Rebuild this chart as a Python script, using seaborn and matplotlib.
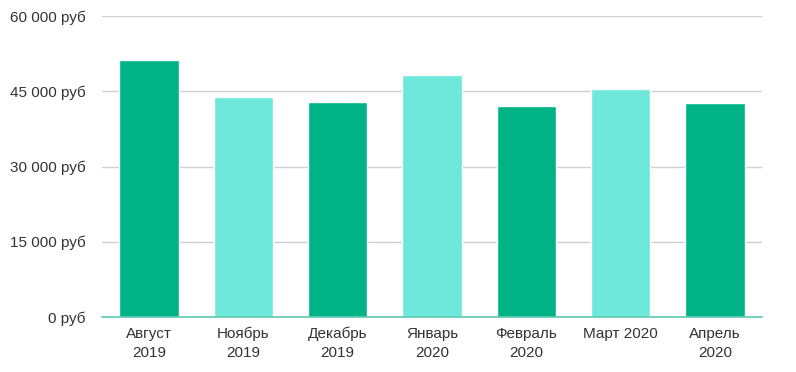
import matplotlib
matplotlib.use("Agg")
import matplotlib.pyplot as plt
import seaborn as sns
import pandas as pd

# monthly values
months = ["Август\n2019", "Ноябрь\n2019", "Декабрь\n2019", "Январь\n2020",
          "Февраль\n2020", "Март 2020", "Апрель\n2020"]
values = [51300, 43800, 42800, 48300, 42100, 45400, 42700]
y_ticks = [0, 15000, 30000, 45000, 60000]
y_labels = ["0 руб", "15 000 руб", "30 000 руб", "45 000 руб", "60 000 руб"]

dark = "#00B386"
light = "#6DE8DB"
bar_colors = [dark if i % 2 == 0 else light for i in range(len(months))]

df = pd.DataFrame({"month": months, "value": values})

sns.set_theme(style="white")
plt.rcParams["font.family"] = ["Liberation Sans", "DejaVu Sans"]

fig = plt.figure(figsize=(7.96, 3.72), dpi=100)
ax = fig.add_axes([102 / 796, 55 / 372, 660 / 796, 301 / 372])

sns.barplot(data=df, x="month", y="value", hue="month", palette=bar_colors,
            legend=False, width=0.63, saturation=1, ax=ax, zorder=3)

ax.set_ylim(0, 60000)
ax.set_xlim(-0.5, len(months) - 0.5)
ax.set_yticks(y_ticks)
ax.set_yticklabels(y_labels)
ax.set_xlabel("")
ax.set_ylabel("")
ax.grid(axis="y", color="#d0d0d0", linewidth=1, zorder=0)
ax.tick_params(axis="y", length=0, pad=12, labelsize=11, labelcolor="#333333")
ax.tick_params(axis="x", length=0, pad=7, labelsize=11, labelcolor="#333333")
for lbl in ax.get_xticklabels():
    lbl.set_linespacing(1.45)
for side in ["top", "right", "left"]:
    ax.spines[side].set_visible(False)
ax.spines["bottom"].set_color("#5cc9b2")
ax.spines["bottom"].set_linewidth(1.2)
ax.spines["bottom"].set_zorder(4)

fig.savefig("out.png", dpi=100)
